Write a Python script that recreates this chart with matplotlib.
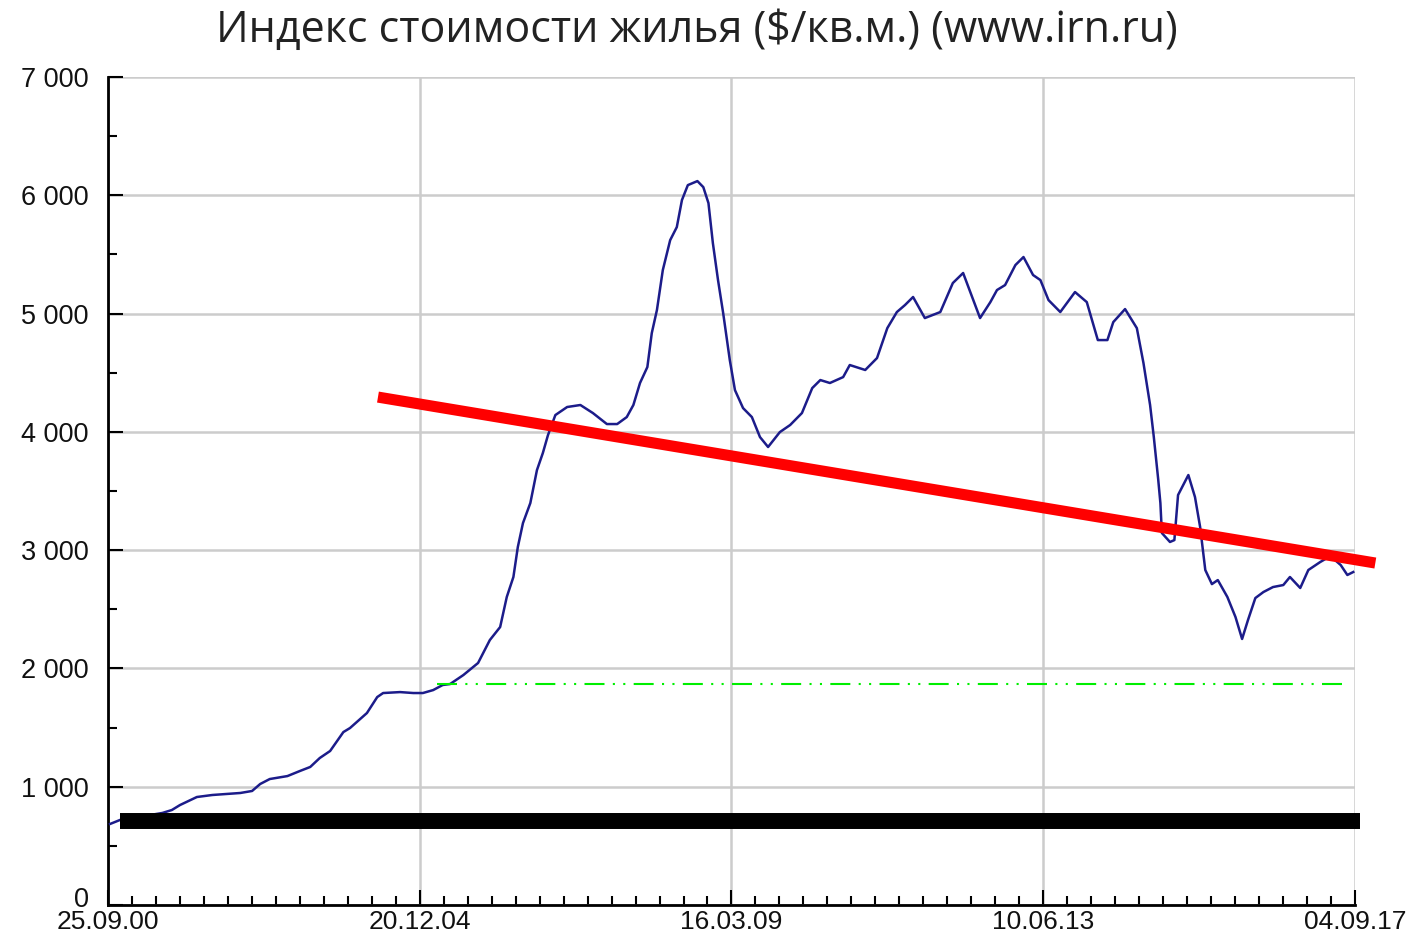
import matplotlib
matplotlib.use('Agg')
import matplotlib.pyplot as plt
import matplotlib.transforms as mtransforms
import numpy as np
import pandas as pd
from matplotlib.ticker import FuncFormatter

# decimal years and index value ($/sq.m.)
years = [2000.76, 2000.90, 2001.20, 2001.47, 2001.60, 2001.71, 2001.94, 2002.15, 2002.53, 2002.69,
         2002.80, 2002.93, 2003.17, 2003.34, 2003.48, 2003.61, 2003.75, 2003.93, 2004.02, 2004.25,
         2004.39, 2004.47, 2004.70, 2004.88, 2005.01, 2005.15, 2005.28, 2005.38, 2005.56, 2005.76,
         2005.92, 2006.06, 2006.15, 2006.24, 2006.30, 2006.37, 2006.47, 2006.56, 2006.64, 2006.71,
         2006.81, 2006.97, 2007.15, 2007.32, 2007.51, 2007.65, 2007.78, 2007.87, 2007.96, 2008.06,
         2008.12, 2008.19, 2008.27, 2008.37, 2008.46, 2008.53, 2008.61, 2008.74, 2008.82, 2008.89,
         2008.95, 2009.02, 2009.09, 2009.18, 2009.25, 2009.36, 2009.48, 2009.59, 2009.70, 2009.86,
         2010.00, 2010.16, 2010.30, 2010.41, 2010.54, 2010.72, 2010.81, 2011.02, 2011.18, 2011.32,
         2011.45, 2011.56, 2011.67, 2011.83, 2012.04, 2012.21, 2012.35, 2012.58, 2012.72, 2012.81,
         2012.92, 2013.06, 2013.17, 2013.30, 2013.40, 2013.51, 2013.67, 2013.87, 2014.03, 2014.18,
         2014.31, 2014.39, 2014.55, 2014.71, 2014.80, 2014.89, 2014.94, 2015.00, 2015.03, 2015.05,
         2015.16, 2015.22, 2015.27, 2015.41, 2015.50, 2015.57, 2015.64, 2015.73, 2015.81, 2015.94,
         2016.05, 2016.14, 2016.22, 2016.32, 2016.43, 2016.56, 2016.70, 2016.79, 2016.93, 2017.04,
         2017.20, 2017.34, 2017.48, 2017.57, 2017.65]
values = [685, 720, 750, 778, 803, 845, 913, 930, 947, 964,
          1023, 1065, 1090, 1133, 1167, 1243, 1302, 1462, 1496, 1623,
          1758, 1792, 1800, 1792, 1792, 1817, 1860, 1868, 1944, 2046,
          2240, 2350, 2604, 2773, 3026, 3229, 3398, 3677, 3821, 3973,
          4142, 4210, 4227, 4159, 4066, 4066, 4125, 4227, 4413, 4548,
          4835, 5030, 5368, 5621, 5731, 5960, 6086, 6120, 6069, 5934,
          5596, 5283, 5004, 4607, 4353, 4201, 4125, 3956, 3872, 3998,
          4058, 4159, 4370, 4438, 4413, 4463, 4565, 4523, 4624, 4877,
          5013, 5072, 5140, 4962, 5013, 5258, 5343, 4962, 5097, 5199,
          5241, 5410, 5478, 5326, 5283, 5114, 5013, 5182, 5097, 4776,
          4776, 4928, 5038, 4877, 4582, 4227, 3960, 3600, 3398, 3145,
          3069, 3085, 3466, 3635, 3449, 3195, 2832, 2713, 2747, 2604,
          2435, 2249, 2409, 2595, 2646, 2688, 2705, 2773, 2680, 2832,
          2899, 2950, 2874, 2790, 2815]

tick_dates = ['25.09.00', '20.12.04', '16.03.09', '10.06.13', '04.09.17']

# overlay lines: (x0, x1), (y0, y1)
red_x = [2004.40, 2017.95]
red_y = [4294, 2891]
black_x = [2000.90, 2017.74]
black_y = [710, 710]
green_x = [2005.20, 2017.57]
green_y = [1868, 1868]


def to_year(s):
    d = pd.to_datetime(s, format='%d.%m.%y')
    n = 366 if d.is_leap_year else 365
    return d.year + (d.dayofyear - 1) / n


tick_pos = [to_year(s) for s in tick_dates]

fig = plt.figure(figsize=(14.1, 9.41), dpi=100)
ax = fig.add_axes([108 / 1410, 1 - 905 / 941, 1247 / 1410, 828 / 941])

ax.plot(years, values, color='#1c1c8a', linewidth=1.8, zorder=3)
ax.plot(green_x, green_y, color='#00ee00', linewidth=1.5,
        linestyle=(0, (9.6, 4, 1, 4, 1, 4)), zorder=3)
ax.plot(black_x, black_y, color='black', linewidth=11.5,
        solid_capstyle='butt', clip_on=False, zorder=4)
ax.plot(red_x, red_y, color='#ff0000', linewidth=8,
        solid_capstyle='butt', clip_on=False, zorder=5)

ax.set_xlim(tick_pos[0], tick_pos[-1])
ax.set_ylim(0, 7000)

ax.set_xticks(tick_pos)
ax.set_xticklabels(tick_dates)
minor = []
for a, b in zip(tick_pos[:-1], tick_pos[1:]):
    minor.extend(np.linspace(a, b, 14)[1:-1])
ax.set_xticks(minor, minor=True)
ax.set_yticks(np.arange(0, 7001, 1000))
ax.set_yticks(np.arange(500, 7000, 1000), minor=True)
ax.yaxis.set_major_formatter(FuncFormatter(lambda v, p: f'{int(v):,}'.replace(',', ' ')))

ax.tick_params(which='major', direction='in', length=11, width=1.5, color='black',
               labelsize=19.5)
ax.tick_params(which='minor', direction='in', length=6.5, width=1.5, color='black')
ax.tick_params(axis='y', which='major', pad=14)
ax.tick_params(axis='x', which='major', pad=3.5, labelsize=19)
for lab in ax.get_xticklabels() + ax.get_yticklabels():
    lab.set_family('Liberation Sans')
    lab.set_color('#111111')

# nudge the "0" label up a little so it clears the date below
zero_lab = ax.yaxis.get_major_ticks()[0].label1
zero_lab.set_transform(zero_lab.get_transform()
                       + mtransforms.ScaledTranslation(0, 6 / 72, fig.dpi_scale_trans))

ax.grid(True, which='major', color='#cccccc', linewidth=1.8)
ax.set_axisbelow(True)
for side in ['top', 'right']:
    ax.spines[side].set_visible(False)
for side in ['left', 'bottom']:
    ax.spines[side].set_linewidth(2)
    ax.spines[side].set_color('black')

fig.text(0.494, 1 - 31 / 941, 'Индекс стоимости жилья ($/кв.м.) (www.irn.ru)',
         ha='center', va='center', fontsize=31, family='Open Sans', color='#222222')

fig.savefig('out.png', dpi=100)
